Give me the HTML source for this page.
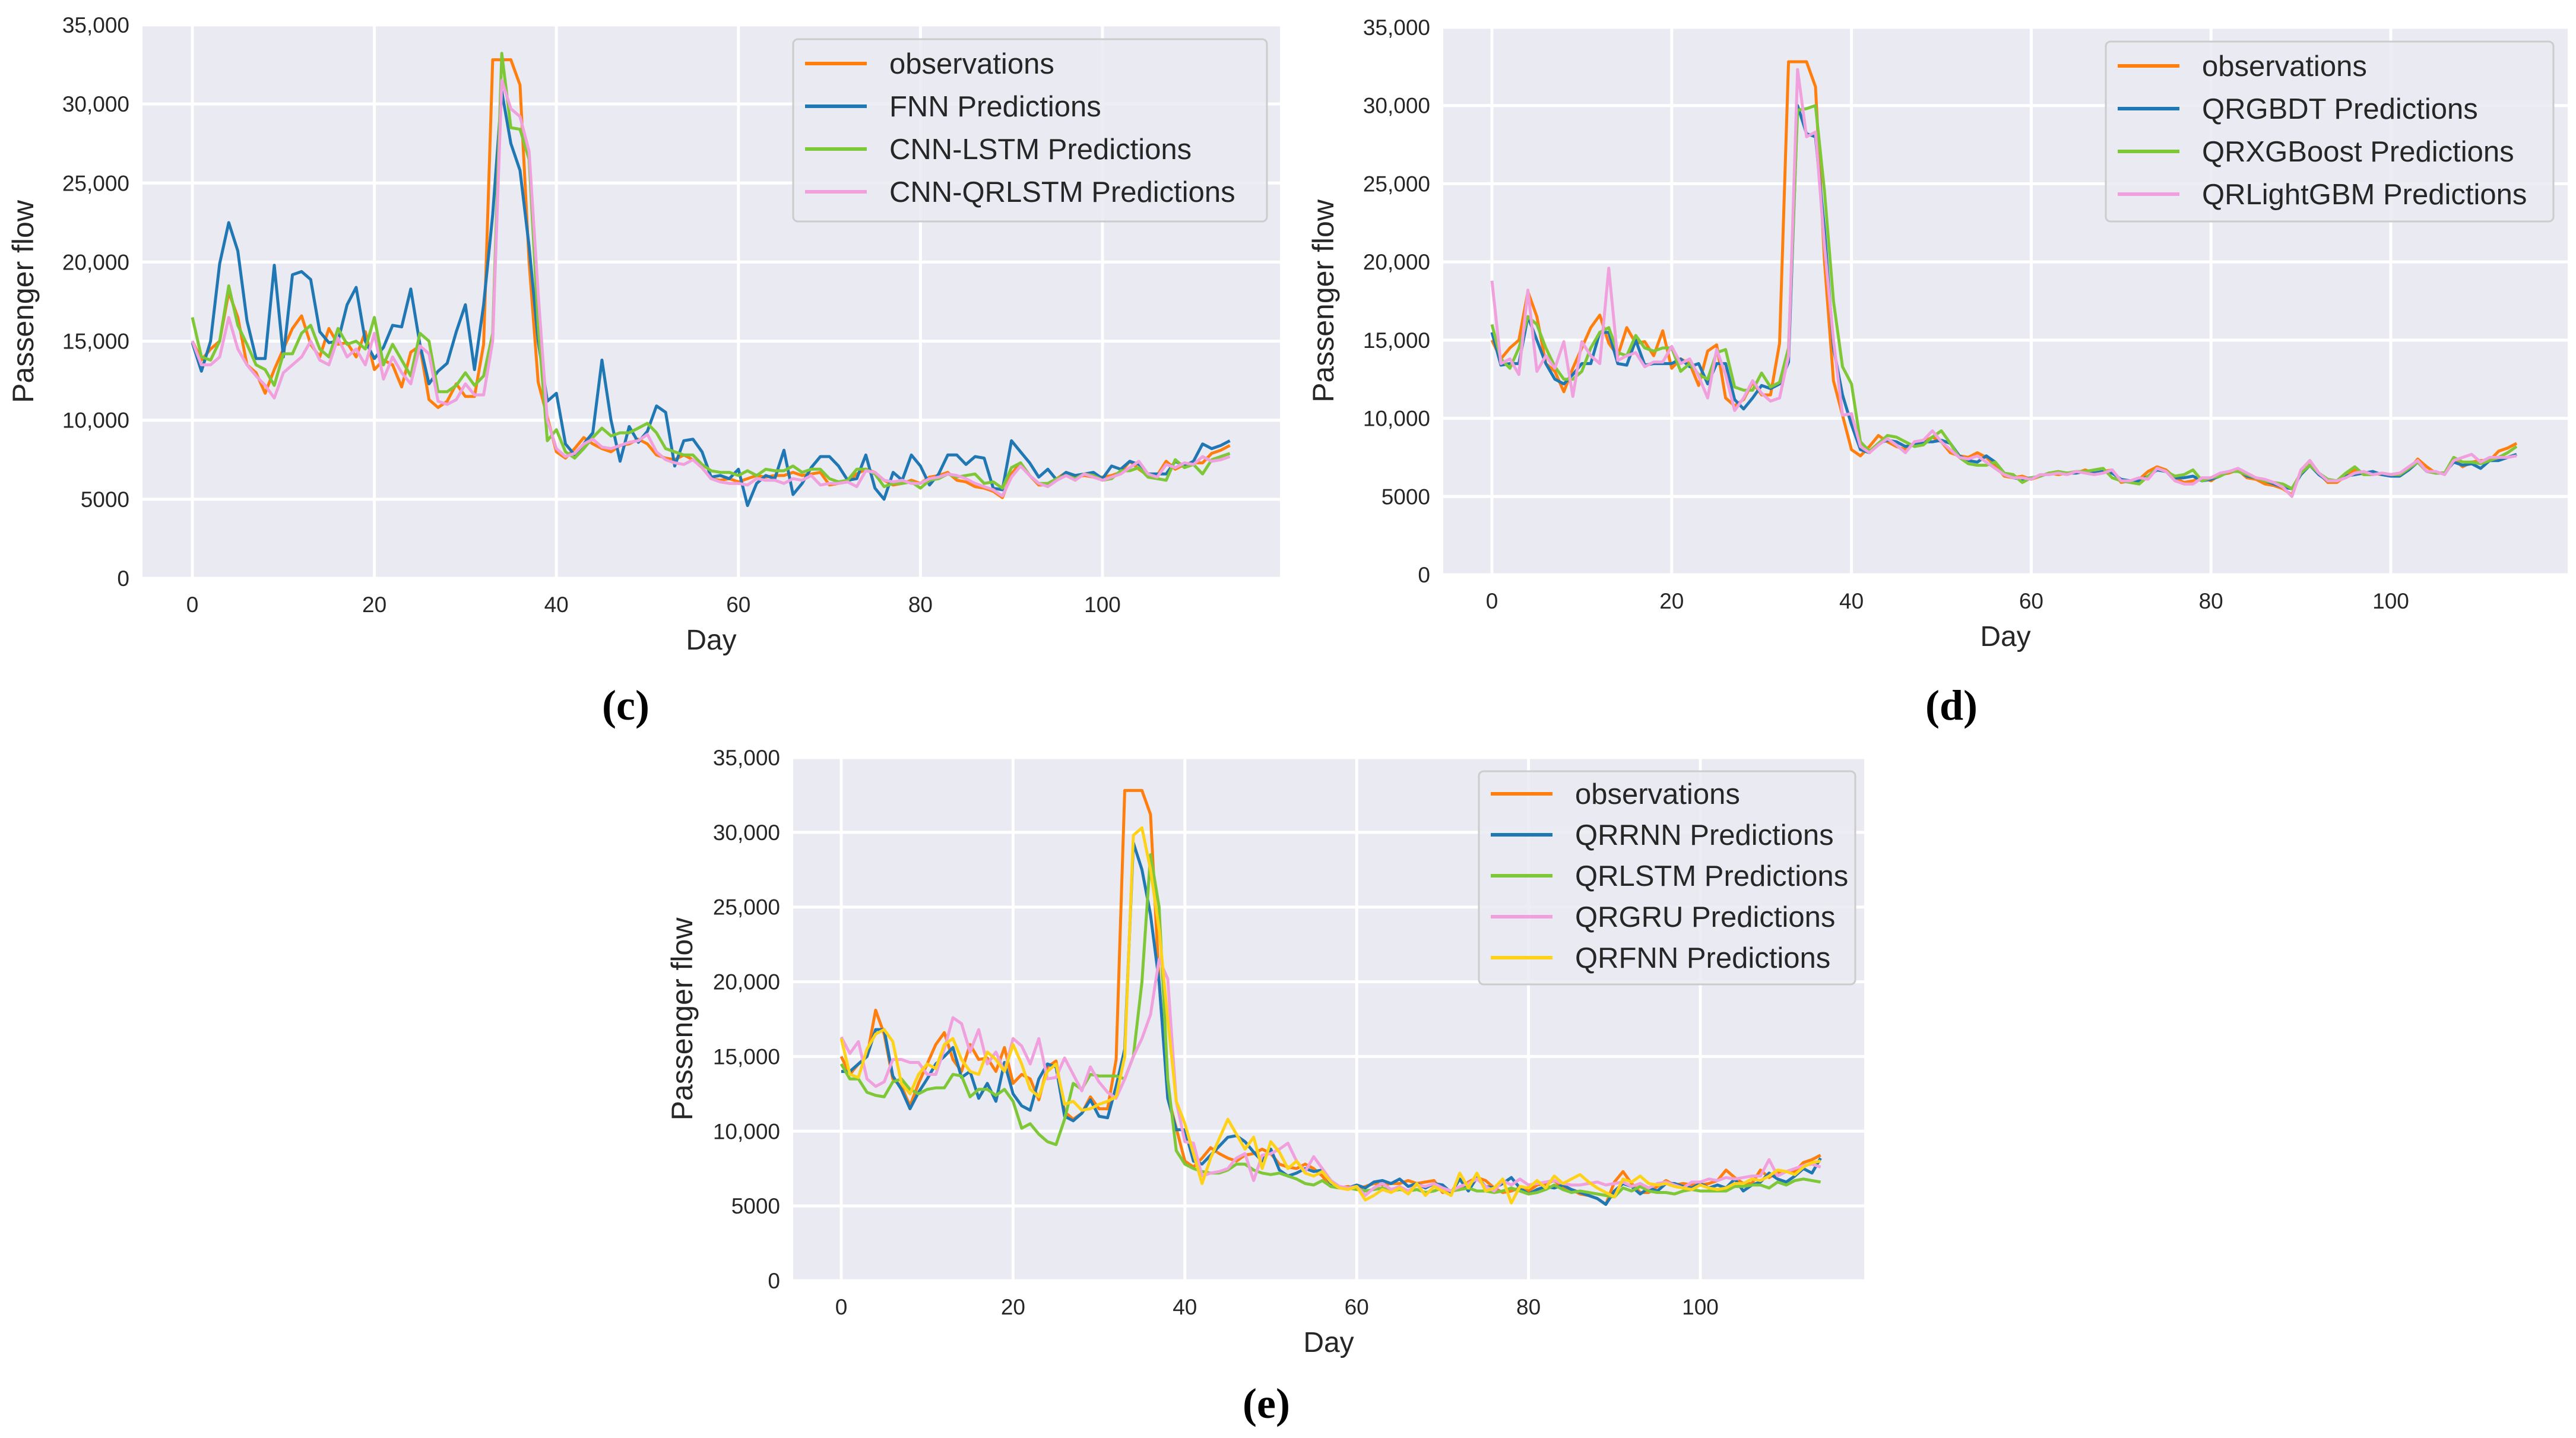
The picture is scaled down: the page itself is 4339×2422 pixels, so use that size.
<!DOCTYPE html>
<html><head><meta charset="utf-8"><style>
html,body{margin:0;padding:0;background:#fff;}
svg{display:block;font-family:"Liberation Sans",sans-serif;}
</style></head><body>
<svg id="fig" width="4339" height="2422" viewBox="0 0 4339 2422" xmlns="http://www.w3.org/2000/svg">
<text x="1054" y="1212" font-family="Liberation Serif,serif" font-weight="bold" font-size="72" text-anchor="middle">(c)</text>
<text x="3287" y="1212" font-family="Liberation Serif,serif" font-weight="bold" font-size="72" text-anchor="middle">(d)</text>
<text x="2133" y="2388" font-family="Liberation Serif,serif" font-weight="bold" font-size="72" text-anchor="middle">(e)</text>
</svg>
<script>
const yTicks=[0,5000,10000,15000,20000,25000,30000,35000];
const yTickLabels=["0","5000","10,000","15,000","20,000","25,000","30,000","35,000"];
const xTicks=[0,20,40,60,80,100];
const observations=[15.0,13.8,14.5,15.0,18.1,16.5,13.5,13.0,11.7,13.2,14.5,15.8,16.6,14.8,14.0,15.8,14.8,14.9,14.0,15.6,13.2,13.8,13.5,12.1,14.3,14.7,11.3,10.8,11.2,12.3,11.5,11.5,14.8,32.8,32.8,32.8,31.2,20.0,12.4,10.2,8.0,7.6,8.2,8.9,8.5,8.2,8.0,8.4,8.5,8.8,8.5,7.8,7.6,7.5,7.8,7.5,7.0,6.3,6.2,6.3,6.1,6.3,6.5,6.4,6.5,6.5,6.7,6.5,6.6,6.7,5.9,6.0,6.1,6.6,6.9,6.7,6.2,5.9,6.0,6.2,6.0,6.4,6.5,6.7,6.2,6.1,5.8,5.7,5.5,5.1,6.6,7.3,6.5,5.9,5.9,6.3,6.7,6.4,6.5,6.4,6.4,6.5,6.7,7.4,6.9,6.5,6.5,7.4,6.9,7.2,7.3,7.3,7.9,8.1,8.4];
const fnn=[14.9,13.1,15.0,19.9,22.5,20.7,16.3,13.9,13.9,19.8,14.0,19.2,19.4,18.9,15.6,14.9,15.0,17.3,18.4,15.0,13.9,14.6,16.0,15.9,18.3,14.8,12.3,13.1,13.6,15.6,17.3,13.2,17.3,23.0,30.8,27.5,25.8,21.0,15.0,11.2,11.7,8.5,7.8,8.5,9.2,13.8,10.0,7.4,9.6,8.6,9.3,10.9,10.5,7.1,8.7,8.8,8.0,6.4,6.5,6.3,6.9,4.6,6.0,6.5,6.3,8.1,5.3,6.0,7.0,7.7,7.7,7.1,6.2,6.3,7.8,5.7,5.0,6.7,6.2,7.8,7.1,5.9,6.6,7.8,7.8,7.2,7.7,7.6,5.7,5.6,8.7,8.0,7.3,6.4,6.9,6.2,6.7,6.5,6.6,6.7,6.3,7.1,6.9,7.4,7.2,6.6,6.6,6.6,7.4,7.1,7.4,8.5,8.2,8.4,8.7];
const cnnLstm=[16.5,14.0,13.8,15.0,18.5,16.0,14.8,13.5,13.2,12.2,14.2,14.2,15.5,16.0,14.5,14.0,15.8,14.8,15.0,14.5,16.5,13.5,14.8,13.8,12.8,15.5,15.0,11.8,11.8,12.2,13.0,12.2,12.8,15.5,33.2,28.5,28.4,26.5,16.0,8.7,9.4,8.0,7.6,8.2,8.9,9.5,9.0,9.2,9.2,9.5,9.8,9.2,8.2,8.0,7.8,7.8,7.2,6.8,6.7,6.7,6.5,6.8,6.5,6.9,6.8,6.8,7.1,6.7,6.9,6.9,6.3,6.1,6.2,6.9,6.9,6.6,5.8,6.0,6.0,6.1,5.7,6.2,6.3,6.6,6.4,6.5,6.6,6.0,6.1,5.7,7.0,7.3,6.5,6.0,6.0,6.3,6.5,6.3,6.6,6.5,6.2,6.3,6.8,6.8,7.0,6.4,6.3,6.2,7.5,7.0,7.2,6.6,7.5,7.7,7.9];
const cnnQrlstm=[15.0,13.5,13.5,14.0,16.5,14.5,13.5,12.8,12.2,11.4,13.0,13.5,14.0,15.0,13.8,13.5,15.2,14.0,14.5,13.5,15.5,12.6,14.0,13.0,12.3,14.7,14.2,11.2,11.0,11.3,12.3,11.6,11.6,15.0,31.5,29.7,29.2,27.0,18.0,10.0,8.2,7.7,7.9,8.5,8.8,8.3,8.2,8.4,8.6,8.7,9.1,8.0,7.5,7.3,7.2,7.5,7.0,6.3,6.1,6.0,6.0,5.9,6.3,6.2,6.2,6.0,6.3,6.2,6.5,5.9,6.0,6.0,6.1,5.8,6.8,6.7,6.2,6.1,6.2,6.0,6.0,6.3,6.4,6.6,6.5,6.3,6.0,5.8,5.6,5.2,6.4,7.1,6.5,6.0,5.8,6.2,6.5,6.2,6.6,6.4,6.2,6.4,6.6,7.0,7.4,6.6,6.4,7.2,7.0,7.3,7.2,7.7,7.4,7.5,7.7];
const qrgbdt=[15.5,13.4,13.5,13.5,16.5,15.0,13.5,12.5,12.2,12.8,13.5,13.5,15.5,15.5,13.5,13.4,15.0,13.4,13.5,13.5,13.5,13.8,13.3,13.5,12.2,13.5,13.5,11.2,10.6,11.3,12.1,11.9,12.2,13.6,30.0,28.2,28.0,22.0,14.5,11.5,9.6,8.0,7.8,8.4,8.6,8.5,8.2,8.3,8.5,8.5,8.6,8.4,7.6,7.3,7.2,7.6,7.2,6.5,6.2,6.1,6.2,6.3,6.5,6.5,6.5,6.5,6.6,6.5,6.6,6.5,6.1,6.0,6.0,6.3,6.7,6.6,6.2,6.2,6.3,6.0,6.1,6.3,6.6,6.7,6.3,6.2,6.0,5.8,5.6,5.5,6.4,7.0,6.4,6.0,6.0,6.3,6.4,6.5,6.6,6.4,6.3,6.3,6.7,7.2,6.6,6.5,6.5,7.2,7.0,7.1,6.8,7.3,7.3,7.5,7.7];
const qrxgboost=[16.0,13.8,13.2,14.5,16.5,16.0,14.5,13.3,12.5,12.5,13.0,14.5,15.5,15.8,14.2,14.0,15.3,14.5,14.3,14.5,14.5,13.0,13.5,12.8,12.5,14.2,14.4,12.0,11.8,11.8,12.9,12.0,12.3,14.5,29.7,29.8,30.0,24.5,17.5,13.3,12.2,8.5,7.9,8.4,8.9,8.8,8.5,8.2,8.3,8.8,9.2,8.4,7.5,7.1,7.0,7.0,7.2,6.5,6.4,5.9,6.2,6.3,6.5,6.6,6.5,6.6,6.6,6.7,6.8,6.2,6.0,5.9,5.8,6.3,6.8,6.6,6.3,6.4,6.7,6.0,6.2,6.3,6.6,6.6,6.4,6.2,6.0,5.9,5.8,5.5,6.5,7.0,6.5,6.1,6.0,6.5,6.9,6.4,6.4,6.5,6.4,6.4,6.8,7.2,6.6,6.5,6.5,7.5,7.2,7.2,7.1,7.3,7.5,7.8,8.2];
const qrlightgbm=[18.8,13.5,13.8,12.8,18.2,13.0,14.0,13.2,14.9,11.4,14.9,14.0,13.5,19.6,13.7,14.0,14.2,13.3,13.6,13.6,14.6,13.5,13.8,12.7,11.3,14.4,12.8,10.5,11.3,12.4,11.6,11.1,11.3,14.0,32.3,28.0,28.3,21.0,15.0,10.2,10.3,8.2,7.8,8.3,8.7,8.3,7.8,8.5,8.6,9.2,8.5,8.0,7.5,7.4,7.6,7.2,6.8,6.4,6.2,6.2,6.1,6.4,6.4,6.5,6.4,6.6,6.5,6.4,6.5,6.7,6.0,6.0,6.2,6.1,6.8,6.6,6.0,5.8,5.8,6.2,6.2,6.5,6.6,6.8,6.5,6.2,6.1,5.9,5.6,5.0,6.7,7.3,6.5,6.0,6.0,6.2,6.5,6.6,6.4,6.5,6.4,6.5,6.9,7.3,6.6,6.6,6.4,7.3,7.5,7.7,7.2,7.5,7.5,7.5,7.6];
const qrrnn=[14.0,14.0,14.5,15.0,16.8,16.8,13.7,12.8,11.5,12.6,13.5,14.5,15.0,15.6,13.6,14.0,12.2,13.2,12.0,14.6,12.5,11.7,11.4,13.5,14.5,14.3,11.0,10.7,11.2,12.1,11.0,10.9,13.0,15.5,29.3,27.5,24.5,20.0,12.2,10.1,10.1,8.0,7.8,8.4,9.0,9.6,9.7,9.3,8.6,8.0,8.8,7.4,7.0,7.2,7.5,7.3,7.4,6.5,6.2,6.2,6.4,6.2,6.6,6.7,6.5,6.8,6.3,6.5,6.2,6.5,6.4,5.9,6.8,6.0,6.9,6.3,6.2,6.5,6.9,6.2,5.8,6.1,6.3,6.2,6.4,6.1,5.9,5.7,5.5,5.1,6.0,6.5,6.3,5.8,6.2,6.0,6.5,6.5,6.3,6.2,6.5,6.2,6.4,6.2,6.8,6.0,6.4,6.6,7.2,6.8,6.6,7.0,7.5,7.2,8.2];
const qrlstm=[14.5,13.5,13.5,12.6,12.4,12.3,13.3,13.5,12.8,12.5,12.8,12.9,12.9,13.8,13.7,12.3,12.8,12.8,12.4,12.8,12.0,10.2,10.5,9.8,9.3,9.1,10.8,13.2,12.8,13.8,13.7,13.7,13.7,13.5,15.0,20.0,28.5,25.0,13.5,8.7,7.8,7.5,7.3,7.2,7.2,7.4,7.8,7.8,7.4,7.2,7.1,7.2,7.0,6.8,6.5,6.4,6.7,6.3,6.2,6.2,6.1,6.0,6.1,6.2,6.0,6.1,6.0,6.1,5.9,6.0,6.2,6.0,6.1,6.2,6.0,6.0,5.9,6.0,6.2,6.0,5.8,5.9,6.1,6.4,6.1,5.9,6.0,5.9,5.8,5.7,5.6,6.2,6.0,6.3,6.0,5.9,5.9,5.8,6.0,6.1,6.0,6.0,6.0,6.0,6.3,6.3,6.4,6.4,6.2,6.6,6.4,6.7,6.8,6.7,6.6];
const qrgru=[16.3,15.2,16.0,13.5,13.0,13.3,14.8,14.8,14.6,14.6,13.8,13.8,15.5,17.6,17.2,15.3,16.8,14.5,15.3,14.0,16.2,15.7,14.5,16.2,13.5,13.6,14.9,13.8,12.7,14.3,13.3,12.6,12.2,13.5,15.0,16.2,17.8,21.5,20.2,12.0,9.3,9.2,7.0,7.2,7.3,7.5,8.2,8.5,6.7,8.4,8.5,8.8,9.2,8.0,7.3,8.3,7.5,6.7,6.3,6.2,6.3,5.7,6.2,6.5,6.1,6.3,6.0,6.4,6.3,6.5,6.2,6.0,6.3,6.5,6.8,6.3,6.0,6.7,6.4,6.8,6.4,6.5,6.6,6.7,6.5,6.4,6.4,6.5,6.6,6.4,6.5,6.6,6.3,6.5,6.2,6.5,6.6,6.4,6.2,6.6,6.6,6.8,6.7,6.9,6.8,6.9,7.0,7.0,8.1,7.0,7.3,7.5,7.7,7.8,7.6];
const qrfnn=[16.2,13.8,13.6,15.5,16.5,16.8,16.0,13.2,12.5,13.8,14.5,14.2,15.8,16.2,14.8,14.0,13.8,15.3,14.8,14.0,15.8,14.5,12.8,12.3,14.0,14.5,11.8,12.0,11.4,11.5,11.8,12.0,12.3,15.0,29.8,30.3,27.5,23.5,17.5,12.0,10.5,8.5,6.5,8.2,9.5,10.8,9.8,8.8,9.6,7.5,9.3,8.6,7.5,8.0,7.2,7.0,7.3,6.6,6.2,6.1,6.3,5.4,5.7,6.1,5.9,6.2,5.8,6.5,5.7,6.3,6.0,5.7,7.2,6.2,7.2,6.0,6.2,6.8,5.2,6.3,6.2,6.7,6.2,7.0,6.5,6.8,7.1,6.6,6.2,5.9,5.6,6.8,6.6,7.0,6.5,6.4,6.5,6.3,6.2,6.1,6.4,6.2,6.1,6.2,6.5,6.5,6.8,6.7,7.0,7.4,7.3,7.1,7.6,7.9,8.0];
const cNames=["observations","FNN Predictions","CNN-LSTM Predictions","CNN-QRLSTM Predictions"];
const dNames=["observations","QRGBDT Predictions","QRXGBoost Predictions","QRLightGBM Predictions"];
const eNames=["observations","QRRNN Predictions","QRLSTM Predictions","QRGRU Predictions","QRFNN Predictions"];

const NS="http://www.w3.org/2000/svg";
const svg=document.getElementById('fig');
function mk(tag,attrs,parent){const e=document.createElementNS(NS,tag);for(const k in attrs)e.setAttribute(k,attrs[k]);(parent||svg).appendChild(e);return e;}

function drawPanel(id,box,series,names,colors,leg){
  const g=mk('g',{});
  
  
  const xs=d=>box.x0+(d)*box.dx;
  const ys=v=>box.yb-(v/35000)*(box.yb-box.yt);
  const bg=mk('rect',{x:box.l,y:box.yt,width:box.r-box.l,height:box.yb-box.yt,fill:'#eaeaf2'},g);
  
  
  yTicks.forEach((t,i)=>{
    const gl=mk('line',{x1:box.l,x2:box.r,y1:ys(t),y2:ys(t),stroke:'#fff','stroke-width':5},g);
    
    
    const tl=mk('text',{x:box.l-22,y:ys(t)+13,'font-size':37,fill:'#262626','text-anchor':'end'},g);
    tl.textContent=yTickLabels[i];
    
    
  });
  xTicks.forEach(t=>{
    const gl=mk('line',{x1:xs(t),x2:xs(t),y1:box.yt,y2:box.yb,stroke:'#fff','stroke-width':5},g);
    
    
    const tl=mk('text',{x:xs(t),y:box.yb+57,'font-size':37,fill:'#262626','text-anchor':'middle'},g);
    tl.textContent=String(t);
    
    
  });
  const xl=mk('text',{x:(box.l+box.r)/2,y:box.yb+120,'font-size':48,fill:'#262626','text-anchor':'middle'},g);
  xl.textContent='Day';
  
  
  const yl=mk('text',{x:0,y:0,'font-size':50,fill:'#262626','text-anchor':'middle',transform:`translate(${box.ylx},${(box.yt+box.yb)/2}) rotate(-90)`},g);
  yl.textContent='Passenger flow';
  
  
  series.forEach((arr,si)=>{
    const pts=arr.map((v,i)=>xs(i).toFixed(1)+','+ys(v*1000).toFixed(1)).join(' ');
    const pl=mk('polyline',{points:pts,fill:'none',stroke:colors[si],'stroke-width':5,'stroke-linejoin':'round'},g);
    
    
  });
  const lb=mk('rect',{x:leg.x,y:leg.y,width:leg.w,height:leg.h,rx:8,fill:'#eaeaf2',stroke:'#cccccc','stroke-width':3,'fill-opacity':0.85},g);
  
  
  names.forEach((n,i)=>{
    const yy=leg.y+leg.first+i*leg.sp;
    const ln=mk('line',{x1:leg.x+20,x2:leg.x+124,y1:yy,y2:yy,stroke:colors[i],'stroke-width':6},g);
    
    
    const tx=mk('text',{x:leg.x+162,y:yy+17,'font-size':49,fill:'#262626'},g);
    tx.textContent=n;
    
    
  });
}
const C=['#ff7f0e','#1f77b4','#7ec736','#f0a0dc','#ffd21a'];
drawPanel('c',{l:240,r:2156,yt:42,yb:974,x0:324,dx:15.33,ylx:56},[observations,fnn,cnnLstm,cnnQrlstm],cNames,C,{x:1336,y:66,w:798,h:307,first:41,sp:72});
drawPanel('d',{l:2431,r:4325,yt:46,yb:968,x0:2513,dx:15.14,ylx:2246},[observations,qrgbdt,qrxgboost,qrlightgbm],dNames,C,{x:3547,y:70,w:754,h:303,first:41,sp:72});
drawPanel('e',{l:1336,r:3140,yt:1276,yb:2157,x0:1417,dx:14.47,ylx:1166},[observations,qrrnn,qrlstm,qrgru,qrfnn],eNames,C,{x:2491,y:1299,w:634,h:359,first:38,sp:69});
</script>
</body></html>
